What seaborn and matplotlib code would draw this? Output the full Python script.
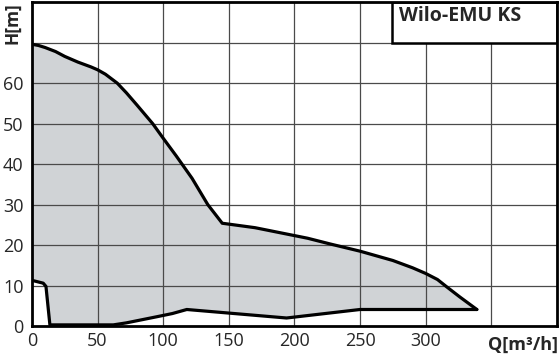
import numpy as np
import seaborn as sns
import matplotlib.pyplot as plt
from matplotlib.patches import Rectangle

# Kennlinienfeld Wilo-EMU KS
q_upper = [0, 5, 10, 18, 25, 35, 45, 50, 56, 65, 72, 80, 92, 100, 110, 122, 134, 145,
           170, 190, 210, 227, 250, 275, 290, 300, 309, 316, 326, 339]
h_upper = [69.6, 69.3, 68.8, 67.8, 66.6, 65.2, 64.0, 63.3, 62.2, 60, 57.6, 54.6, 50, 46.4,
           42, 36.5, 30, 25.4, 24.3, 23.0, 21.7, 20.3, 18.5, 16.2, 14.4, 13.0, 11.5, 9.7, 7.2, 4.1]

q_lower = [0, 8.6, 10.7, 13.7, 62, 72, 95, 107, 118, 194, 250, 339]
h_lower = [11.3, 10.6, 9.8, 0.3, 0.3, 0.8, 2.3, 3.1, 4.1, 2.0, 4.1, 4.1]

x_ticks = [0, 50, 100, 150, 200, 250, 300]
y_ticks = [0, 10, 20, 30, 40, 50, 60]
title = "Wilo-EMU KS"

sns.set_style("whitegrid", {'grid.color': '#4a4a4a'})
plt.rcParams['font.family'] = ['Open Sans', 'DejaVu Sans']

fig = plt.figure(figsize=(5.6, 3.56), dpi=100)
ax = fig.add_axes([0.057, 0.084, 0.9375, 0.91])

# graue Fläche zwischen oberer und unterer Grenze
ax.fill(np.concatenate([q_upper, q_lower[::-1]]),
        np.concatenate([h_upper, h_lower[::-1]]),
        color='#d0d3d6', lw=0, zorder=1)

sns.lineplot(x=q_upper, y=h_upper, sort=False, estimator=None, color='black', lw=2.3, ax=ax, zorder=3)
sns.lineplot(x=q_lower, y=h_lower, sort=False, estimator=None, color='black', lw=2.3, ax=ax, zorder=3)

ax.set_xlim(0, 400)
ax.set_ylim(0, 80)
ax.set_xticks(np.arange(0, 401, 50))
ax.set_yticks(np.arange(0, 81, 10))
ax.set_xticklabels([str(t) if t in x_ticks else '' for t in range(0, 401, 50)])
ax.set_yticklabels([str(t) if t in y_ticks else '' for t in range(0, 81, 10)])
ax.tick_params(length=0, labelsize=13, pad=4)
ax.tick_params(axis='y', pad=6)

# Gitter über der Fläche
for t in range(50, 400, 50):
    ax.axvline(t, color='#4a4a4a', lw=0.9, zorder=2)
for t in range(10, 80, 10):
    ax.axhline(t, color='#4a4a4a', lw=0.9, zorder=2)
ax.grid(False)

for s in ax.spines.values():
    s.set_color('black')
    s.set_linewidth(2)
    s.set_zorder(5)

# Typenfeld oben rechts
ax.add_patch(Rectangle((274, 70), 126, 10, facecolor='white', edgecolor='black', lw=1.8, zorder=4))
ax.text(280, 76.6, title, fontsize=14, fontweight='bold', va='center', ha='left', zorder=6)

fig.text(0.006, 0.994, "H[m]", rotation=90, fontsize=12.5, fontweight='bold', ha='left', va='top')
fig.text(0.996, 0.005, "Q[m³/h]", fontsize=13, fontweight='bold', ha='right', va='bottom')

fig.savefig('out.png', dpi=100)
